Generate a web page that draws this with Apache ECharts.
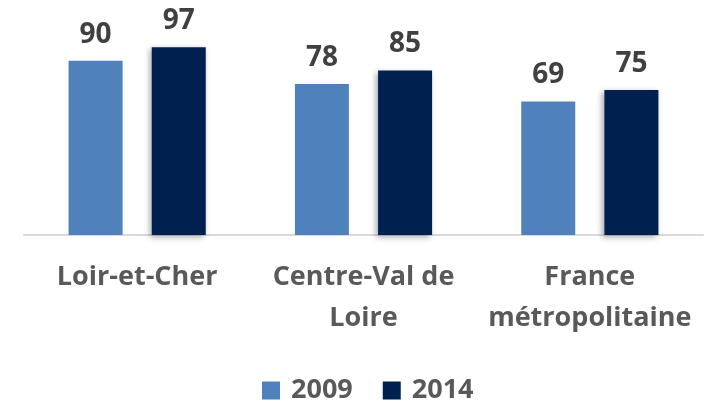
<!DOCTYPE html>
<html>
<head>
    <meta charset="utf-8">
    <title>ECharts</title>
    <script type="text/javascript" src="https://cdn.jsdelivr.net/npm/echarts@6/dist/echarts.min.js"></script>
    <style>
        html, body { margin: 0; padding: 0; background: #fff; }
    </style>
</head>
<body>
    <div id="chart" style="width: 711px;height:401px;"></div>
</body>
<script type="text/javascript">
    var categories = ['Loir-et-Cher', 'Centre-Val de\nLoire', 'France\nmétropolitaine'];
    var years = ['2009', '2014'];
    var values2009 = [90, 78, 69];
    var values2014 = [97, 85, 75];

    var font = '"Open Sans", sans-serif';
    var chart = echarts.init(document.getElementById("chart"));
    chart.setOption({
        animation: false,
        grid: {
            left: 24,
            right: 8,
            top: 41.5,
            bottom: 166
        },
        legend: {
            data: years,
            top: 372,
            left: 257,
            itemWidth: 18,
            itemHeight: 18,
            itemGap: 30,
            icon: 'rect',
            textStyle: {
                fontFamily: font,
                fontWeight: 'bold',
                fontSize: 27,
                color: '#595959',
                padding: [0, 0, 0, 6]
            }
        },
        xAxis: {
            type: 'category',
            data: categories,
            axisTick: { show: false },
            axisLine: { lineStyle: { color: '#d9d9d9', width: 2 } },
            axisLabel: {
                interval: 0,
                hideOverlap: false,
                margin: 22,
                fontFamily: font,
                fontWeight: 'bold',
                fontSize: 27,
                lineHeight: 41,
                color: '#595959'
            }
        },
        yAxis: {
            type: 'value',
            min: 0,
            max: 100,
            show: false,
            splitLine: { show: false }
        },
        series: [
            {
                name: '2009',
                type: 'bar',
                data: values2009,
                barWidth: 54,
                barGap: '54%',
                itemStyle: { color: '#4f81bd' },
                label: {
                    show: true,
                    position: 'top',
                    distance: 12,
                    fontFamily: font,
                    fontWeight: 'bold',
                    fontSize: 28,
                    color: '#404040'
                }
            },
            {
                name: '2014',
                type: 'bar',
                data: values2014,
                barWidth: 54,
                itemStyle: {
                    color: '#002050',
                    shadowColor: 'rgba(0,0,0,0.35)',
                    shadowBlur: 6,
                    shadowOffsetX: -2,
                    shadowOffsetY: 2
                },
                label: {
                    show: true,
                    position: 'top',
                    distance: 12,
                    fontFamily: font,
                    fontWeight: 'bold',
                    fontSize: 28,
                    color: '#404040'
                }
            }
        ]
    });
</script>
</html>
